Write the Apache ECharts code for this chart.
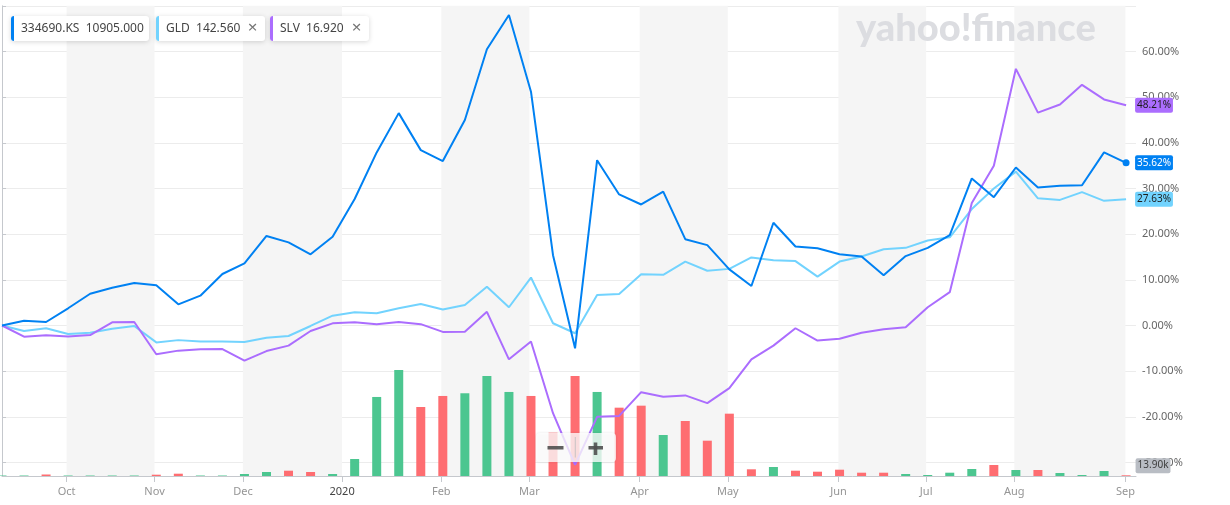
<!DOCTYPE html>
<html><head><meta charset="utf-8">
<script src="https://cdn.jsdelivr.net/npm/echarts@6/dist/echarts.min.js"></script>
<style>html,body{margin:0;padding:0;background:#fff;overflow:hidden}#c{width:1230px;height:520px}</style>
</head><body><div id="c"></div>
<script>
// ---- data (weekly points, % change from start) ----
const ksValues = [0, 1.05, 0.77, 3.77, 6.96, 8.28, 9.3, 8.8, 4.64, 6.53, 11.28, 13.6, 19.6, 18.2, 15.6, 19.45, 27.7, 37.9, 46.5, 38.4,
  36.0, 45.0, 60.5, 68.0, 51.2, 15.4, -5.0, 36.2, 28.7, 26.5, 29.3, 18.9, 17.6, 12.3, 8.65, 22.5, 17.3, 16.9, 15.6, 15.1,
  11.0, 15.2, 17.0, 19.8, 32.2, 28.1, 34.6, 30.2, 30.6, 30.7, 37.9, 35.62];
const gldValues = [0, -1.2, -0.6, -1.86, -1.6, -0.7, -0.1, -3.7, -3.2, -3.5, -3.5, -3.6, -2.7, -2.3, -0.1, 2.15, 2.9, 2.67, 3.8, 4.7,
  3.5, 4.5, 8.5, 4.0, 10.5, 0.5, -1.7, 6.7, 6.9, 11.2, 11.1, 14.0, 12.0, 12.4, 14.9, 14.3, 14.1, 10.7, 14.0, 15.1,
  16.7, 17.0, 18.6, 19.3, 25.5, 30.0, 33.7, 27.85, 27.5, 29.2, 27.3, 27.63];
const slvValues = [0, -2.45, -2.15, -2.4, -2.1, 0.7, 0.77, -6.3, -5.5, -5.2, -5.15, -7.7, -5.6, -4.4, -1.2, 0.47, 0.7, 0.26, 0.77, 0.3,
  -1.4, -1.35, 3.0, -7.4, -3.5, -19.2, -30.5, -20.0, -19.8, -14.6, -15.6, -15.3, -17.0, -13.7, -7.4, -4.4, -0.6, -3.3, -2.9, -1.6,
  -0.8, -0.4, 4.0, 7.3, 26.8, 35.0, 56.2, 46.6, 48.4, 52.7, 49.5, 48.21];
// volume in thousands
const volumeK = [10, 10, 30, 10, 10, 10, 10, 26, 46, 10, 10, 40, 80, 106, 80, 40, 340, 1580, 2120, 1380,
  1600, 1654, 2000, 1680, 1600, 866, 2000, 1680, 1366, 1406, 820, 1100, 706, 1246, 134, 180, 106, 86, 126, 66,
  66, 40, 20, 66, 140, 220, 120, 120, 60, 20, 100, 13.9];
// month ticks (position in weekly index) and labels
const monthTickPos = [2.93, 6.92, 10.93, 15.43, 19.93, 23.93, 28.93, 32.93, 37.95, 41.93, 45.93, 50.97];
const monthTickLabels = ['Oct', 'Nov', 'Dec', '2020', 'Feb', 'Mar', 'Apr', 'May', 'Jun', 'Jul', 'Aug', 'Sep'];
const legendItems = [
  { name: '334690.KS', price: '10905.000' },
  { name: 'GLD', price: '142.560' },
  { name: 'SLV', price: '16.920' }
];

// ---- styling ----
const C_KS = '#0081f2', C_GLD = '#72d3fe', C_SLV = '#ab6dfe';
const C_UP = '#4cc690', C_DOWN = '#fe6d71';
const AXIS_C = '#c5c8cd', GRID_C = '#ececec', BAND_C = '#f5f5f5';
const FONT = '"Noto Sans", "Liberation Sans", sans-serif';
const last = ksValues.length - 1;
const X_MIN = 0, X_MAX = 51.45;
const CH = 520; // canvas height (viewport shows top 505px)

const bands = [];
for (let k = 0; k + 1 < monthTickPos.length; k += 2) {
  bands.push([{ xAxis: monthTickPos[k] }, { xAxis: monthTickPos[k + 1] }]);
}

function lineSeries(name, values, color, labelColor, withDot) {
  return {
    name, type: 'line', xAxisIndex: 0, yAxisIndex: 0, z: 5,
    data: values.map((v, i) => [i, v]),
    showSymbol: withDot, symbol: 'circle',
    symbolSize: (v, p) => (withDot && p.dataIndex === last) ? 7 : 0,
    itemStyle: { color },
    lineStyle: { color, width: 2 },
    emphasis: { disabled: true },
    endLabel: {
      show: true, distance: 9,
      formatter: p => p.value[1].toFixed(2) + '%',
      backgroundColor: color, color: labelColor, padding: [3, 2, 2, 2], borderRadius: 2,
      fontSize: 10, fontFamily: FONT
    }
  };
}

const volData = volumeK.map((v, i) => {
  const up = i === 0 || ksValues[i] >= ksValues[i - 1];
  const item = { value: [i, v], itemStyle: { color: up ? C_UP : C_DOWN } };
  if (i === last) {
    item.label = {
      show: true, position: 'right', distance: 5, offset: [0, -10],
      formatter: p => p.value[1].toFixed(2) + 'k',
      backgroundColor: '#b9bdc4', color: '#3d3d3d', padding: [3, 2, 2, 2], borderRadius: 2,
      fontSize: 10, fontFamily: FONT
    };
  }
  return item;
});

// legend graphic
const ZG = 100;
const legendBoxes = [
  { x: 11, w: 138, color: C_KS, close: false },
  { x: 156, w: 109, color: C_GLD, close: true },
  { x: 270, w: 99, color: C_SLV, close: true }
];
const graphics = [];
legendBoxes.forEach((b, k) => {
  const it = legendItems[k];
  graphics.push({ type: 'rect', z: ZG, shape: { x: b.x, y: 16, width: b.w, height: 25, r: 3 },
    style: { fill: '#fff', shadowBlur: 5, shadowColor: 'rgba(0,0,0,0.16)', shadowOffsetY: 1 } });
  graphics.push({ type: 'rect', z: ZG + 1, shape: { x: b.x, y: 16, width: 3, height: 25, r: [3, 0, 0, 3] },
    style: { fill: b.color } });
  graphics.push({ type: 'text', z: ZG + 1, x: b.x + 10, y: 29, style: { text: it.name + '  ' + it.price, fill: '#444',
    font: '12px ' + FONT, verticalAlign: 'middle', align: 'left' } });
  if (b.close) {
    graphics.push({ type: 'text', z: ZG + 1, x: b.x + b.w - 12.5, y: 28.5, style: { text: '×', fill: '#777',
      font: '17px ' + FONT, verticalAlign: 'middle', align: 'center' } });
  }
});
// watermark
graphics.push({ type: 'text', x: 856, y: 10, z: 4, silent: true,
  style: { text: 'yahoo!finance', fill: '#dcdde1', font: '900 38px "Lato", "Liberation Sans", sans-serif' } });
// zoom control
const zx = 536, zy = 433;
graphics.push({ type: 'rect', z: ZG, shape: { x: zx, y: zy, width: 80, height: 29, r: 4 },
  style: { fill: 'rgba(255,255,255,0.78)', shadowBlur: 3, shadowColor: 'rgba(0,0,0,0.12)' } });
graphics.push({ type: 'rect', z: ZG + 1, shape: { x: zx + 11.5, y: zy + 13, width: 16, height: 3.5 }, style: { fill: 'rgba(80,80,80,0.9)' } });
graphics.push({ type: 'line', z: ZG + 1, shape: { x1: zx + 39.3, y1: zy + 4, x2: zx + 39.3, y2: zy + 24.5 }, style: { stroke: 'rgba(190,190,190,0.8)', lineWidth: 1 } });
graphics.push({ type: 'rect', z: ZG + 1, shape: { x: zx + 52.5, y: zy + 13, width: 14.5, height: 3.5 }, style: { fill: 'rgba(80,80,80,0.9)' } });
graphics.push({ type: 'rect', z: ZG + 1, shape: { x: zx + 57.7, y: zy + 9.5, width: 3.6, height: 12.5 }, style: { fill: 'rgba(80,80,80,0.9)' } });

const chart = echarts.init(document.getElementById('c'), null, { renderer: 'canvas' });
chart.setOption({
  animation: false,
  backgroundColor: '#fff',
  textStyle: { fontFamily: FONT },
  grid: [
    { left: 2, right: 94, top: 5.8, height: 502.4 },
    { left: 2, right: 94, top: 5.8, bottom: CH - 476 }
  ],
  xAxis: [
    { gridIndex: 0, type: 'value', min: X_MIN, max: X_MAX, show: false },
    { gridIndex: 1, type: 'value', min: X_MIN, max: X_MAX,
      splitLine: { show: false },
      axisLine: { show: true, lineStyle: { color: AXIS_C, width: 1 } },
      axisTick: { show: true, customValues: monthTickPos, length: 6, lineStyle: { color: AXIS_C } },
      axisLabel: { customValues: monthTickPos, margin: 10, fontSize: 11, fontFamily: FONT,
        formatter: v => { const k = monthTickPos.findIndex(p => Math.abs(p - v) < 1e-6); return k < 0 ? '' : (monthTickLabels[k] === '2020' ? '{y|2020}' : monthTickLabels[k]); },
        color: '#959595', rich: { y: { color: '#444', fontSize: 11, fontFamily: FONT } } } }
  ],
  yAxis: [
    { gridIndex: 0, type: 'value', position: 'right', min: -40, max: 70, interval: 10,
      axisLine: { show: false },
      axisTick: { show: true, length: 4, lineStyle: { color: AXIS_C } },
      axisLabel: { margin: 6, fontSize: 11, color: '#666', fontFamily: FONT,
        formatter: v => (v >= 70 || v <= -40) ? '' : v.toFixed(2) + '%' },
      splitLine: { show: true, lineStyle: { color: GRID_C, width: 1 } } },
    { gridIndex: 1, type: 'value', position: 'right', min: 0, max: 9400,
      axisLine: { show: true, lineStyle: { color: AXIS_C, width: 1 } },
      axisTick: { show: false }, axisLabel: { show: false }, splitLine: { show: false } }
  ],
  series: [
    { name: 'bands', type: 'line', xAxisIndex: 1, yAxisIndex: 1, z: 0, data: [[0, 0]],
      symbol: 'none', lineStyle: { opacity: 0 }, silent: true,
      markArea: { silent: true, itemStyle: { color: BAND_C }, data: bands } },
    { name: 'Volume', type: 'bar', xAxisIndex: 1, yAxisIndex: 1, z: 2, barWidth: 9,
      data: volData, emphasis: { disabled: true } },
    lineSeries('GLD', gldValues, C_GLD, '#1d1d1d', false),
    lineSeries('SLV', slvValues, C_SLV, '#1d1d1d', false),
    lineSeries('334690.KS', ksValues, C_KS, '#ffffff', true)
  ],
  graphic: graphics
});
</script></body></html>
